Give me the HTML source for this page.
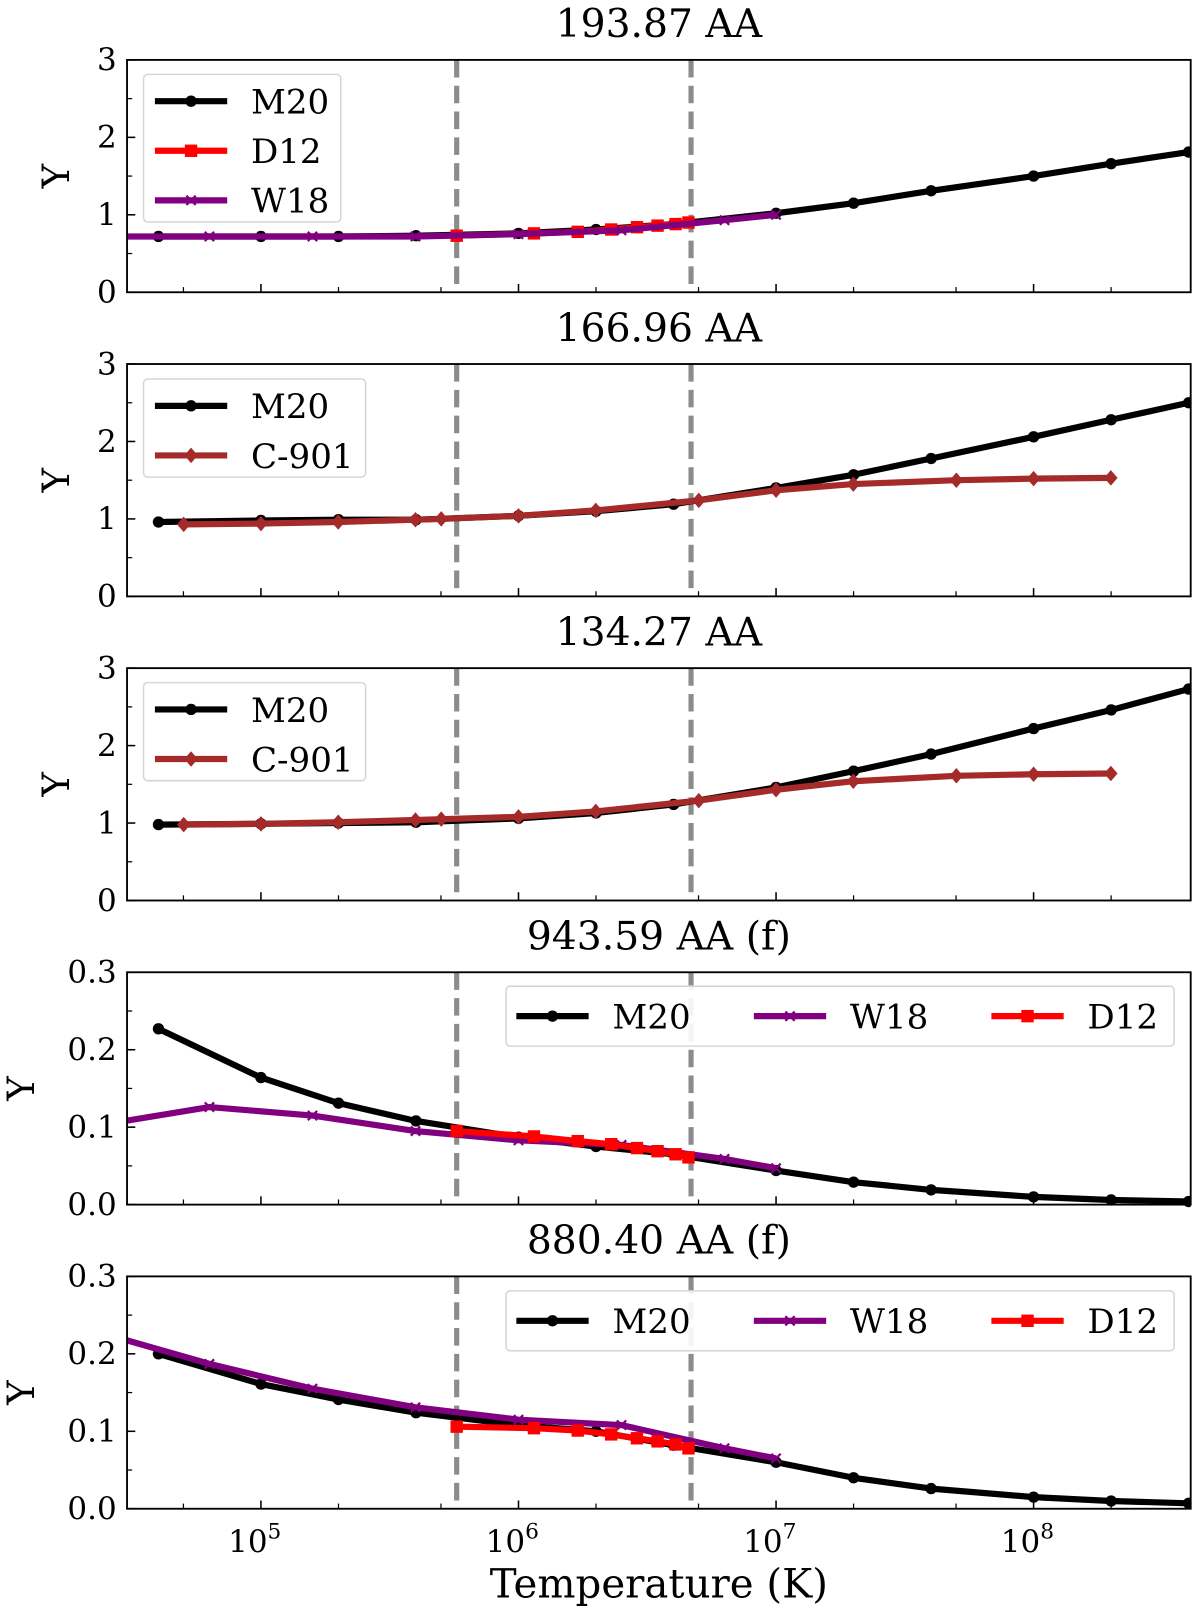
<!DOCTYPE html>
<html><head><meta charset="utf-8"><style>
html,body{margin:0;padding:0;background:#fff}
svg{display:block}
text{font-family:"DejaVu Serif","Liberation Serif",serif;fill:#000}
</style></head>
<body>
<svg id="fig" width="1200" height="1618" viewBox="0 0 1162 1566.8" xmlns="http://www.w3.org/2000/svg"></svg>
<script>
// ---- data ----
const m20T = [4e4,1e5,2e5,4e5,1e6,2e6,4e6,1e7,2e7,4e7,1e8,2e8,4e8];
const w18LogT = [4.4,4.8,5.2,5.6,6.0,6.4,6.8,7.0];
const d12LogT = [5.76,6.06,6.23,6.36,6.46,6.54,6.61,6.66];
const c901LogT = [4.7,5.0,5.3,5.6,5.7,6.0,6.3,6.7,7.0,7.3,7.7,8.0,8.3];

const p1M20 = [0.72,0.72,0.72,0.73,0.76,0.81,0.88,1.02,1.15,1.31,1.50,1.66,1.81];
const p1W18 = [0.72,0.72,0.72,0.72,0.75,0.80,0.93,1.00];
const p1D12 = [0.73,0.76,0.78,0.81,0.84,0.86,0.88,0.90];

const p2M20 = [0.96,0.98,0.99,0.99,1.04,1.10,1.19,1.40,1.57,1.78,2.06,2.28,2.50];
const p2C901 = [0.93,0.94,0.96,0.99,1.00,1.04,1.11,1.24,1.37,1.45,1.50,1.52,1.53];

const p3M20 = [0.98,0.99,1.00,1.01,1.06,1.13,1.24,1.46,1.67,1.89,2.22,2.46,2.73];
const p3C901 = [0.98,0.99,1.01,1.04,1.05,1.08,1.15,1.29,1.43,1.54,1.61,1.63,1.64];

const p4M20 = [0.227,0.164,0.131,0.108,0.087,0.075,0.065,0.044,0.029,0.019,0.010,0.006,0.004];
const p4W18 = [0.104,0.126,0.115,0.095,0.083,0.077,0.059,0.047];
const p4D12 = [0.095,0.088,0.082,0.078,0.073,0.069,0.065,0.061];

const p5M20 = [0.200,0.161,0.141,0.124,0.108,0.100,0.082,0.060,0.040,0.026,0.015,0.010,0.007];
const p5W18 = [0.225,0.187,0.155,0.131,0.115,0.108,0.078,0.065];
const p5D12 = [0.106,0.104,0.101,0.096,0.091,0.087,0.083,0.078];

const titles = ["193.87 AA","166.96 AA","134.27 AA","943.59 AA (f)","880.40 AA (f)"];
const yTicks3 = [0,1,2,3];
const yTicks03 = [0.0,0.1,0.2,0.3];
const xTickExp = [5,6,7,8];
const vLinesLogT = [5.76,6.67];

// ---- geometry ----
const NS="http://www.w3.org/2000/svg";
const svg=document.getElementById('fig');
const L=123,R=1153,PH=225;
const tops=[58,352.5,647,941.5,1236];
const lmin=4.48,lmax=8.61;
function xs(lg){return L+(lg-lmin)/(lmax-lmin)*(R-L);}
function mk(tag,attrs,parent){const e=document.createElementNS(NS,tag);for(const k in attrs)e.setAttribute(k,attrs[k]);(parent||svg).appendChild(e);return e;}
const lg=m20T.map(v=>Math.log10(v));

function marker(g,type,x,y,color){
  let e;
  if(type==='o'){e=mk('circle',{cx:x,cy:y,r:5.5,fill:color},g);}
  else if(type==='s'){e=mk('rect',{x:x-6,y:y-6,width:12,height:12,fill:color},g);}
  else if(type==='d'){e=mk('polygon',{points:`${x},${y-7.5} ${x+6.5},${y} ${x},${y+7.5} ${x-6.5},${y}`,fill:color},g);}
  else {e=mk('path',{d:`M${x-4.5},${y-4.5}L${x+4.5},${y+4.5}M${x-4.5},${y+4.5}L${x+4.5},${y-4.5}`,stroke:color,'stroke-width':2.2},g);}
  
  
}
function series(g,name,xl,vals,ys,color,type,w){
  const sg=mk('g',{},g);
  
  
  const pts=xl.map((l,i)=>[xs(l),ys(vals[i])]);
  const pl=mk('polyline',{points:pts.map(p=>p.join(',')).join(' '),fill:'none',stroke:color,'stroke-width':w,'stroke-linejoin':'round'},sg);
  
  
  pts.forEach(p=>marker(sg,type,p[0],p[1],color));
}
function legendEntry(g,x,y,name,color,type){
  const eg=mk('g',{},g);
  
  
  mk('line',{x1:x,y1:y,x2:x+70,y2:y,stroke:color,'stroke-width':6},eg);
  marker(eg,type,x+35,y,color);
  const t=mk('text',{x:x+93,y:y+12,'font-size':33},eg);t.textContent=name;
}

const panels=[
 {ymax:3,ticks:yTicks3,fmt:v=>String(v),minor:0.5,s:[['m20',lg,p1M20,'#000','o',6],['w18',w18LogT,p1W18,'#800080','x',6],['d12',d12LogT,p1D12,'#ff0000','s',6]],
  drawOrder:[0,2,1],leg:{x:139,y:72,w:191,h:143,vert:[['M20','#000','o'],['D12','#ff0000','s'],['W18','#800080','x']]}},
 {ymax:3,ticks:yTicks3,fmt:v=>String(v),minor:0.5,s:[['m20',lg,p2M20,'#000','o',6],['c901',c901LogT,p2C901,'#a52a2a','d',6]],
  drawOrder:[0,1],leg:{x:139,y:367,w:215,h:95,vert:[['M20','#000','o'],['C-901','#a52a2a','d']]}},
 {ymax:3,ticks:yTicks3,fmt:v=>String(v),minor:0.5,s:[['m20',lg,p3M20,'#000','o',6],['c901',c901LogT,p3C901,'#a52a2a','d',6]],
  drawOrder:[0,1],leg:{x:139,y:661,w:215,h:95,vert:[['M20','#000','o'],['C-901','#a52a2a','d']]}},
 {ymax:0.3,ticks:yTicks03,fmt:v=>v.toFixed(1),minor:0.05,s:[['m20',lg,p4M20,'#000','o',6],['w18',w18LogT,p4W18,'#800080','x',6],['d12',d12LogT,p4D12,'#ff0000','s',6]],
  drawOrder:[0,1,2],leg:{x:490,y:955,w:647,h:58,horiz:[['M20','#000','o',500],['W18','#800080','x',730],['D12','#ff0000','s',960]]}},
 {ymax:0.3,ticks:yTicks03,fmt:v=>v.toFixed(1),minor:0.05,s:[['m20',lg,p5M20,'#000','o',6],['w18',w18LogT,p5W18,'#800080','x',6],['d12',d12LogT,p5D12,'#ff0000','s',6]],
  drawOrder:[0,1,2],leg:{x:490,y:1250,w:647,h:58,horiz:[['M20','#000','o',500],['W18','#800080','x',730],['D12','#ff0000','s',960]]}},
];

panels.forEach((P,pi)=>{
  const T=tops[pi],B=T+PH;
  const ys=v=>B-v/P.ymax*PH;
  const g=mk('g',{});
  
  
  const cp=mk('clipPath',{id:'c'+pi},g);mk('rect',{x:L,y:T-8,width:R-L,height:PH+16},cp);
  const tt=mk('text',{x:(L+R)/2,y:T-22,'font-size':38,'text-anchor':'middle'},g);tt.textContent=titles[pi];
  
  const yl=mk('text',{x:0,y:0,'font-size':36,'text-anchor':'middle',transform:`translate(${pi<3?67:33},${T+PH/2}) rotate(-90)`},g);yl.textContent='Y';
  
  P.ticks.forEach(v=>{const y=ys(v);mk('line',{x1:L,y1:y,x2:L+8,y2:y,stroke:'#000','stroke-width':1.5},g);
    const t=mk('text',{x:L-10,y:y+10,'font-size':30,'text-anchor':'end'},g);t.textContent=P.fmt(v);
    });
  for(let v=P.minor;v<P.ymax;v+=P.minor*2){const y=ys(v);mk('line',{x1:L,y1:y,x2:L+5,y2:y,stroke:'#000','stroke-width':1.2},g);}
  xTickExp.forEach(e=>{const x=xs(e);mk('line',{x1:x,y1:B,x2:x,y2:B-8,stroke:'#000','stroke-width':1.5},g);});
  for(let e=4;e<=8;e++)[2,5].forEach(m=>{const l=e+Math.log10(m);if(l>lmin&&l<lmax){const x=xs(l);mk('line',{x1:x,y1:B,x2:x,y2:B-5,stroke:'#000','stroke-width':1.2},g);}});
  vLinesLogT.forEach(l=>{const d=mk('line',{x1:xs(l),y1:T,x2:xs(l),y2:B,stroke:'#8c8c8c','stroke-width':5,'stroke-dasharray':'17,8'},g);
    });
  const sg=mk('g',{'clip-path':`url(#c${pi})`},g);
  P.drawOrder.forEach(i=>{const s=P.s[i];series(sg,s[0],s[1],s[2],ys,s[3],s[4],s[5]);});
  const fr=mk('rect',{x:L,y:T,width:R-L,height:PH,fill:'none',stroke:'#000','stroke-width':1.8},g);
  
  const lgd=P.leg;const lgG=mk('g',{},g);
  
  mk('rect',{x:lgd.x,y:lgd.y,width:lgd.w,height:lgd.h,rx:4,fill:'#fff','fill-opacity':0.9,stroke:'#d6d6d6','stroke-width':1.5},lgG);
  if(lgd.vert)lgd.vert.forEach((e,i)=>legendEntry(lgG,lgd.x+11,lgd.y+26+i*48,e[0],e[1],e[2]));
  if(lgd.horiz)lgd.horiz.forEach(e=>legendEntry(lgG,e[3],lgd.y+29,e[0],e[1],e[2]));
});
const BB=tops[4]+PH;
xTickExp.forEach(e=>{const t=mk('text',{x:xs(e)-6,y:BB+42,'font-size':30,'text-anchor':'middle'});
  
  
  t.textContent='10';const s=mk('tspan',{dy:-13,'font-size':21},t);s.textContent=String(e);});
const xl=mk('text',{x:(L+R)/2,y:BB+86,'font-size':39,'text-anchor':'middle'});


xl.textContent='Temperature (K)';
</script>
</body></html>
